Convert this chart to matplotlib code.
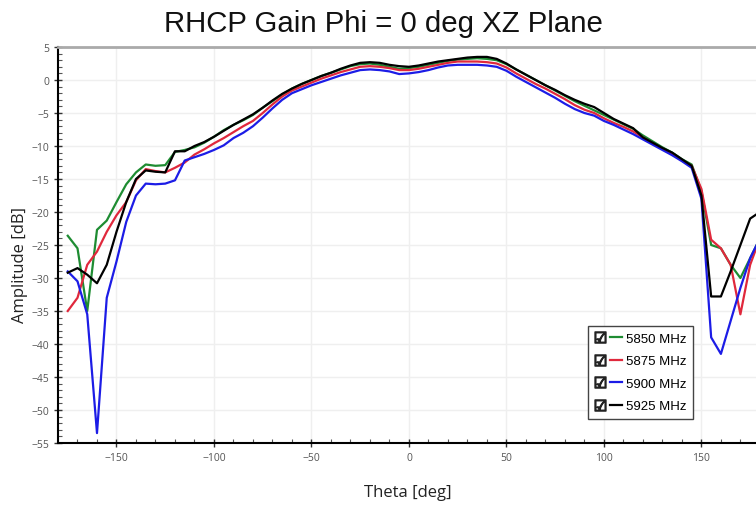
import matplotlib
matplotlib.use("Agg")
import matplotlib.pyplot as plt
import numpy as np
from matplotlib.lines import Line2D
from matplotlib.legend_handler import HandlerTuple

theta = list(range(-175, 185, 5))

gain_5850 = [-23.6, -25.5, -35.0, -22.7, -21.3, -18.5, -15.8, -14.0, -12.8, -13.0,
             -12.9, -10.9, -10.6, -10.2, -9.5, -8.6, -7.6, -6.8, -6.1, -5.3,
             -4.2, -3.2, -2.2, -1.3, -0.6, 0.0, 0.6, 1.1, 1.6, 2.1,
             2.4, 2.5, 2.3, 2.0, 1.7, 1.8, 2.0, 2.3, 2.6, 2.9,
             3.1, 3.2, 3.3, 3.2, 3.0, 2.4, 1.6, 0.8, 0.0, -0.8,
             -1.6, -2.4, -3.2, -3.9, -4.6, -5.3, -6.0, -6.7, -7.4, -8.4,
             -9.3, -10.2, -11.0, -12.0, -12.8, -16.8, -25.0, -25.5, -28.0, -30.0,
             -27.0, -24.0]
gain_5875 = [-35.0, -33.0, -28.0, -26.0, -23.0, -20.5, -18.5, -15.2, -13.5, -13.8,
             -14.0, -13.3, -12.5, -11.3, -10.5, -9.6, -8.8, -7.9, -7.0, -6.2,
             -5.0, -3.7, -2.5, -1.6, -1.0, -0.4, 0.2, 0.7, 1.2, 1.6,
             2.0, 2.1, 2.0, 1.8, 1.5, 1.5, 1.7, 2.0, 2.3, 2.6,
             2.8, 2.8, 2.8, 2.7, 2.5, 1.9, 1.0, 0.2, -0.6, -1.3,
             -2.1, -2.9, -3.8, -4.5, -5.0, -5.8, -6.5, -7.1, -7.8, -8.7,
             -9.6, -10.4, -11.2, -12.2, -13.0, -16.5, -24.2, -25.5, -28.0, -35.5,
             -28.0, -24.0]
gain_5900 = [-29.0, -30.5, -35.5, -53.5, -33.0, -27.5, -21.5, -17.5, -15.7, -15.8,
             -15.7, -15.2, -12.2, -11.7, -11.2, -10.6, -9.9, -8.8, -8.0, -7.0,
             -5.7, -4.3, -3.0, -2.0, -1.4, -0.8, -0.3, 0.2, 0.7, 1.1,
             1.5, 1.6, 1.5, 1.3, 0.9, 1.0, 1.2, 1.5, 1.9, 2.2,
             2.3, 2.3, 2.3, 2.2, 2.0, 1.4, 0.5, -0.3, -1.1, -1.9,
             -2.7, -3.6, -4.4, -5.0, -5.4, -6.2, -6.8, -7.5, -8.2, -9.0,
             -9.8, -10.6, -11.4, -12.3, -13.3, -18.0, -39.0, -41.5, -36.5, -31.5,
             -27.0, -24.0]
gain_5925 = [-29.2, -28.5, -29.5, -30.8, -28.0, -23.0, -18.5, -15.0, -13.7, -13.9,
             -14.0, -10.8, -10.8, -10.0, -9.4, -8.6, -7.7, -6.8, -6.0, -5.2,
             -4.2, -3.1, -2.1, -1.3, -0.6, 0.0, 0.6, 1.1, 1.7, 2.2,
             2.6, 2.7, 2.6, 2.3, 2.1, 2.0, 2.2, 2.5, 2.8, 3.0,
             3.2, 3.4, 3.5, 3.5, 3.2, 2.5, 1.6, 0.8, 0.0, -0.8,
             -1.5, -2.3, -3.0, -3.6, -4.1, -5.0, -5.9, -6.6, -7.3, -8.7,
             -9.5, -10.3, -11.0, -12.0, -13.0, -17.5, -32.8, -32.8, -29.0, -25.0,
             -21.0, -20.0]

labels = ['5850 MHz', '5875 MHz', '5900 MHz', '5925 MHz']
colors = ['#1e8c32', '#e0283c', '#1c1ce6', '#000000']
series = [gain_5850, gain_5875, gain_5900, gain_5925]

fig = plt.figure(figsize=(7.56, 5.06), dpi=100)
ax = fig.add_axes([58 / 756, 62 / 506, 698 / 756, 396 / 506])

lines = []
for vals, col in zip(series, colors):
    ln, = ax.plot(theta, vals, color=col, lw=1.6)
    lines.append(ln)

ax.set_xlim(-180, 178)
ax.set_ylim(-55, 5)
ax.set_xticks(np.arange(-150, 151, 50))
ax.set_xticks(np.arange(-170, 180, 10), minor=True)
ax.set_yticks(np.arange(-55, 6, 5))
ax.set_yticks(np.arange(-55, 6, 1), minor=True)
ax.grid(True, which='major', color='#efefef', lw=1.0)
ax.set_axisbelow(True)

for lab in ax.get_xticklabels() + ax.get_yticklabels():
    lab.set_family('Open Sans')
ax.tick_params(which='major', direction='inout', length=6, width=1, labelsize=7.5,
               labelcolor='#555555', color='#333333')
ax.tick_params(which='minor', direction='in', length=3, width=0.8, color='#555555')

ax.spines['left'].set_linewidth(1.5)
ax.spines['bottom'].set_linewidth(1.5)
ax.spines['top'].set_color('#aaaaaa')
ax.spines['top'].set_linewidth(2)
ax.spines['right'].set_visible(False)

fig.text(383 / 756, 1 - 32 / 506, 'RHCP Gain Phi = 0 deg XZ Plane', ha='center', va='baseline',
         fontsize=21.2, family='Liberation Sans', color='#111111')
fig.text(20 / 756, 1 - 265 / 506, 'Amplitude [dB]', rotation=90, ha='center', va='center',
         fontsize=12, family='Open Sans', color='#222222')
fig.text(408 / 756, 1 - 493 / 506, 'Theta [deg]', ha='center', va='center',
         fontsize=12, family='Open Sans', color='#222222')

box = Line2D([], [], marker='$\u2611$', color='#222222', ls='none', markersize=8)
handles = [(box, ln) for ln in lines]
leg = ax.legend(handles, labels, handler_map={tuple: HandlerTuple(ndivide=None, pad=0.3)},
                loc='upper left', bbox_to_anchor=(0.759, 0.296), fancybox=False,
                edgecolor='#444444', framealpha=1, handlelength=2.1, handletextpad=0.3,
                labelspacing=0.78, borderpad=0.5, borderaxespad=0,
                prop={'family': 'Liberation Sans', 'size': 9.5})
leg.get_frame().set_linewidth(1)

plt.savefig('out.png', dpi=100)
plt.close()
